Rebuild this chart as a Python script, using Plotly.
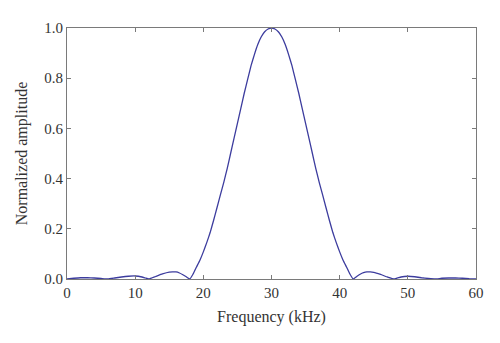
import plotly.graph_objects as go

freq_khz = [0, 1, 2, 3, 4, 5, 6, 7, 8, 9, 10, 11, 11.5, 12,
            13, 14, 15, 15.5, 16, 16.5, 17, 17.5, 18,
            18.5, 19, 19.5, 20, 20.5, 21, 21.5, 22, 22.5, 23, 23.5, 24,
            24.5, 25, 25.5, 26, 26.5, 27, 27.5, 28, 28.5, 29, 29.5, 30,
            30.5, 31, 31.5, 32, 32.5, 33, 33.5, 34, 34.5, 35, 35.5, 36,
            36.5, 37, 37.5, 38, 38.5, 39, 39.5, 40, 40.5, 41, 41.5, 42,
            42.5, 43, 43.5, 44, 44.5, 45, 46, 47, 48,
            49, 50, 51, 52, 53, 54, 55, 56, 57, 58, 59, 60]

amplitude = [0.0, 0.003, 0.005, 0.005, 0.004, 0.002, 0.0, 0.004, 0.008, 0.011, 0.012, 0.008, 0.004, 0.0,
             0.010, 0.020, 0.027, 0.028, 0.028, 0.024, 0.017, 0.009, 0.0,
             0.020, 0.048, 0.075, 0.108, 0.145, 0.185, 0.233, 0.284, 0.335, 0.385, 0.44, 0.50,
             0.56, 0.62, 0.68, 0.74, 0.795, 0.85, 0.895, 0.935, 0.965, 0.985, 0.996, 1.0,
             0.996, 0.985, 0.965, 0.935, 0.895, 0.85, 0.795, 0.74, 0.68, 0.62, 0.56, 0.50,
             0.44, 0.385, 0.335, 0.284, 0.233, 0.185, 0.145, 0.108, 0.075, 0.048, 0.020, 0.0,
             0.010, 0.019, 0.025, 0.028, 0.028, 0.026, 0.018, 0.008, 0.0,
             0.008, 0.011, 0.009, 0.005, 0.002, 0.0, 0.003, 0.004, 0.004, 0.003, 0.001, 0.0]

x_ticks = [0, 10, 20, 30, 40, 50, 60]
y_ticks = [0.0, 0.2, 0.4, 0.6, 0.8, 1.0]

font_family = "Liberation Serif, Times New Roman, serif"
axis_color = "#7a7a7a"

fig = go.Figure()
fig.add_trace(go.Scatter(x=freq_khz, y=amplitude, mode="lines",
                         line=dict(color="#3c3c9e", width=1.3, shape="spline", smoothing=0.3),
                         showlegend=False))

common = dict(showline=True, linecolor=axis_color, linewidth=1.2, mirror="ticks",
              ticks="inside", ticklen=4, tickcolor=axis_color, showgrid=False,
              zeroline=False, tickfont=dict(family=font_family, size=15, color="#333"))

fig.update_layout(
    width=500, height=343,
    margin=dict(l=59, r=32, t=16, b=72),
    paper_bgcolor="white", plot_bgcolor="white",
    font=dict(family=font_family, size=15, color="#333"),
    xaxis=dict(range=[0, 60], tickvals=x_ticks, ticktext=[str(v) for v in x_ticks],
               title=dict(text="Frequency (kHz)", font=dict(family=font_family, size=16, color="#333"), standoff=10),
               **common),
    yaxis=dict(range=[0, 1], tickvals=y_ticks, ticktext=[f"{v:.1f}" for v in y_ticks],
               title=dict(text="Normalized amplitude", font=dict(family=font_family, size=16, color="#333"), standoff=12),
               **common),
)

fig.write_html("out.html")
